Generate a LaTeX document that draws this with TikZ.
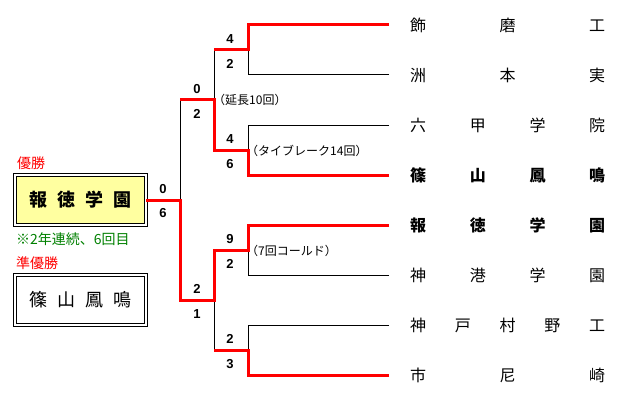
\documentclass[tikz,border=0pt]{standalone}
\usepackage{fontspec}
\setmainfont{Noto Sans CJK JP}
\newfontfamily\numfont{Liberation Sans}
\definecolor{paleyellow}{RGB}{255,255,160}
\definecolor{notegreen}{RGB}{0,128,0}
\newcommand\spread[1]{\makebox[195pt]{#1}}
\begin{document}
\begin{tikzpicture}[x=1pt,y=-1pt,
  win/.style={red,line width=3pt},
  lose/.style={black,line width=1pt},
  score/.style={font=\numfont\bfseries\fontsize{13}{13}\selectfont,inner sep=0pt},
  team/.style={anchor=west,inner sep=0pt,font=\fontsize{16}{16}\selectfont},
  memo/.style={anchor=west,inner sep=0pt,font=\fontsize{12}{12}\selectfont},
  title/.style={anchor=west,inner sep=0pt,red,font=\fontsize{14}{14}\selectfont},
  result/.style={draw,double,line width=0.8pt,double distance=2pt,
    minimum width=131pt,minimum height=50pt,font=\fontsize{18}{18}\selectfont}]
  \useasboundingbox (0,0) rectangle (631,401);
  % team lines
  \foreach \i in {1,...,8} {
    \coordinate (e\i) at (389,{50*\i-25});
    \coordinate (c\i) at (248,{50*\i-25});
  }
  \coordinate (q1) at (248,50);
  \coordinate (q2) at (248,150);
  \coordinate (q3) at (248,250);
  \coordinate (q4) at (248,350);
  \coordinate (r1) at (214,50);
  \coordinate (r2) at (214,150);
  \coordinate (r3) at (214,250);
  \coordinate (r4) at (214,350);
  \coordinate (s1) at (214,100);
  \coordinate (s2) at (214,300);
  \coordinate (sa) at (180,100);
  \coordinate (sb) at (180,300);
  \coordinate (f) at (180,200);
  % teams
  \node[team] (t1) at (410,25) {\spread{飾\hfill 磨\hfill 工}};
  \node[team] (t2) at (410,75) {\spread{洲\hfill 本\hfill 実}};
  \node[team] (t3) at (410,125) {\spread{六\hfill 甲\hfill 学\hfill 院}};
  \node[team,font=\bfseries\fontsize{16}{16}\selectfont] (t4) at (410,175) {\spread{篠\hfill 山\hfill 鳳\hfill 鳴}};
  \node[team,font=\bfseries\fontsize{16}{16}\selectfont] (t5) at (410,225) {\spread{報\hfill 徳\hfill 学\hfill 園}};
  \node[team] (t6) at (410,275) {\spread{神\hfill 港\hfill 学\hfill 園}};
  \node[team] (t7) at (410,325) {\spread{神\hfill 戸\hfill 村\hfill 野\hfill 工}};
  \node[team] (t8) at (410,375) {\spread{市\hfill 尼\hfill 崎}};
  % final result
  \node[title] (wtitle) at (17,163) {優勝};
  \node[result,fill=paleyellow,font=\bfseries\fontsize{18}{18}\selectfont] (champ) at (80.5,200) {報\hspace{10pt}徳\hspace{10pt}学\hspace{10pt}園};
  \node[memo,notegreen,font=\fontsize{14}{14}\selectfont] (wnote) at (16,239) {※2年連続、6回目};
  \node[title] (rtitle) at (16,263) {準優勝};
  \node[result] (second) at (80.5,300) {篠\hspace{10pt}山\hspace{10pt}鳳\hspace{10pt}鳴};
  % losing lines
  \draw[lose] (e2) -- (c2) -- (q1);
  \draw[lose] (e3) -- (c3) -- (q2);
  \draw[lose] (e6) -- (c6) -- (q3);
  \draw[lose] (e7) -- (c7) -- (q4);
  \draw[lose] (r1) -- (s1);
  \draw[lose] (s2) -- (r4);
  \draw[lose] (sa) -- (f);
  % winning lines
  \draw[win] (e1) -- (c1) -- (q1) -- (r1);
  \draw[win] (e4) -- (c4) -- (q2) -- (r2) -- (s1) -- (sa);
  \draw[win] (e5) -- (c5) -- (q3) -- (r3) -- (s2) -- (sb) -- (f) -- (champ.east);
  \draw[win] (e8) -- (c8) -- (q4) -- (r4);
  % scores
  \node[score] (p1) at (230,39) {4};
  \node[score] (p2) at (230,64) {2};
  \node[score] (p3) at (230,139) {4};
  \node[score] (p4) at (230,164) {6};
  \node[score] (p5) at (230,239) {9};
  \node[score] (p6) at (230,264) {2};
  \node[score] (p7) at (230,339) {2};
  \node[score] (p8) at (230,364) {3};
  \node[score] (p9) at (197,89) {0};
  \node[score] (p10) at (197,114) {2};
  \node[score] (p11) at (197,289) {2};
  \node[score] (p12) at (197,314) {1};
  \node[score] (p13) at (163,189) {0};
  \node[score] (p14) at (163,213) {6};
  % notes
  \node[memo] (n1) at (213,100) {（延長10回）};
  \node[memo] (n2) at (246,151) {（タイブレーク14回）};
  \node[memo] (n3) at (246,251) {（7回コールド）};
\end{tikzpicture}
\end{document}
